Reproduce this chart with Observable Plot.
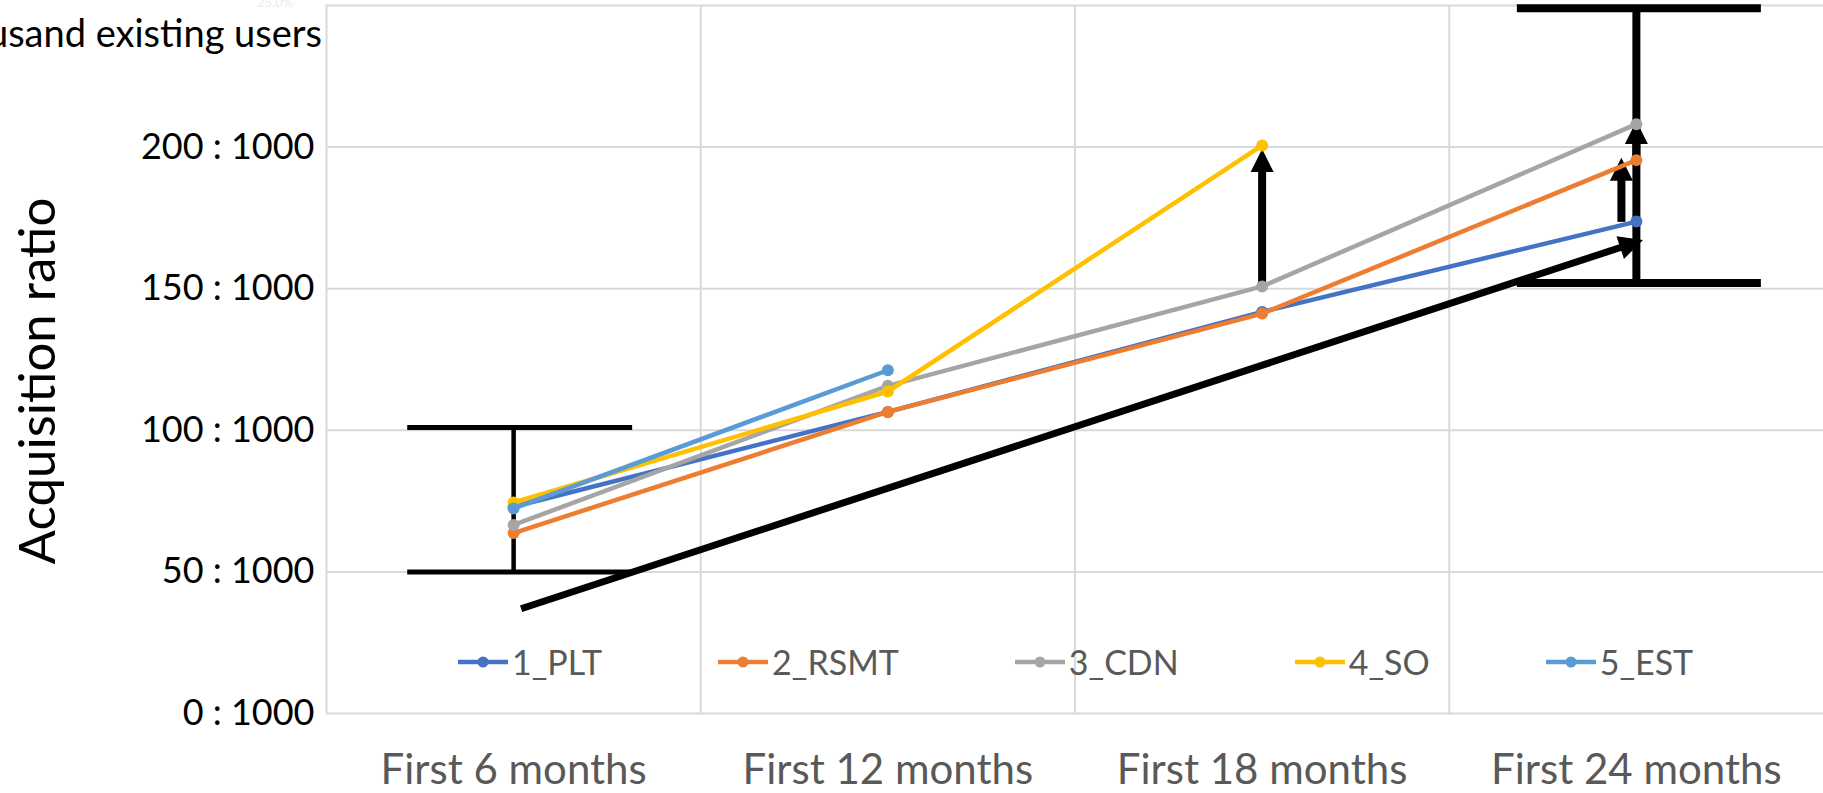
<!DOCTYPE html>
<html>
<head>
<meta charset="utf-8">
<script src="https://cdn.jsdelivr.net/npm/d3@7"></script>
<script src="https://cdn.jsdelivr.net/npm/@observablehq/plot@0.6"></script>
<style>
  html, body { margin: 0; padding: 0; background: #fff; overflow: hidden; }
  #wrap { position: relative; width: 1823px; height: 793px; overflow: hidden;
          font-family: Lato, "Open Sans", "Noto Sans", sans-serif; }
  #wrap > svg { position: absolute; left: 0; top: 0; }
  .note { position: absolute; white-space: nowrap; }
  #topline { right: 1501px; top: 13px; font-size: 38px; line-height: 38px; color: #000; }
  #pct { left: 257px; top: -4px; font-size: 13px; line-height: 13px; color: #ececec; }
  #ytitle { left: 35px; top: 381px; font-size: 51px; line-height: 51px; color: #000;
            transform: translate(-50%, -50%) rotate(-90deg); }
  #legend { position: absolute; left: 458px; top: 642px; height: 40px; display: flex;
            align-items: center; gap: 116px; font-size: 34px; color: #595959; }
  #legend .item { display: flex; align-items: center; }
  #legend .item span { margin-left: 4px; line-height: 40px; }
</style>
</head>
<body>
<div id="wrap">
  <div class="note" id="topline">New users per thousand existing users</div>
  <div class="note" id="pct">25.0%</div>
  <div class="note" id="ytitle">Acquisition ratio</div>
  <div id="legend"></div>
</div>
<script>
// Periods on the x axis
const categories = ["First 6 months", "First 12 months", "First 18 months", "First 24 months"];

// Series (new users per 1000 existing users)
const seriesNames = ["1_PLT", "2_RSMT", "3_CDN", "4_SO", "5_EST"];
const seriesColors = ["#4472C4", "#ED7D31", "#A5A5A5", "#FFC000", "#5B9BD5"];
const plt  = [73.0, 106.5, 141.8, 173.7];
const rsmt = [63.7, 106.5, 141.2, 195.4];
const cdn  = [66.6, 115.7, 150.8, 208.1];
const so   = [74.5, 113.7, 200.6];
const est  = [72.4, 121.2];

// Value axis
const yTicks = [0, 50, 100, 150, 200];
const yGridLines = [0, 50, 100, 150, 200, 250];

// Expected ranges (low / high) at a period
const rangeAt   = [0, 3];
const rangeLow  = [50, 152];
const rangeHigh = [101, 249];

// Step-up arrows between series at a period
const stepAt   = [2, 2.96, 3];
const stepFrom = [152, 173.6, 195.4];
const stepTo   = [196.5, 193.4, 206.4];

// Overall trend arrow [period, value]
const trendFrom = [0.02, 37];
const trendTo   = [3.0, 166.4];

// ---- derived tables ----
const seriesValues = [plt, rsmt, cdn, so, est];
const points = seriesNames.map((name, s) =>
  seriesValues[s].map((value, i) => ({name, i, value})));
const ranges = rangeAt.map((at, k) => ({at, low: rangeLow[k], high: rangeHigh[k]}));
const steps = stepAt.map((at, k) => ({at, from: stepFrom[k], to: stepTo[k]}));
const trend = [{x1: trendFrom[0], y1: trendFrom[1], x2: trendTo[0], y2: trendTo[1]}];

// Look of the range bars (cap reach left/right in periods, line weights in px)
const rangeStyle = [
  {left: 0.283, right: 0.318, cap: 5, stem: 4.5},
  {left: 0.318, right: 0.334, cap: 8, stem: 8}
];

// Filled triangular arrowhead; the tip overhangs the shaft end by `overhang` px
const SVGNS = "http://www.w3.org/2000/svg";
function solidHead(size, overhang) {
  return (color) => {
    const m = document.createElementNS(SVGNS, "marker");
    m.setAttribute("viewBox", `0 ${-size / 2} ${size} ${size}`);
    m.setAttribute("markerWidth", size);
    m.setAttribute("markerHeight", size);
    m.setAttribute("markerUnits", "userSpaceOnUse");
    m.setAttribute("refX", size - overhang);
    m.setAttribute("refY", 0);
    m.setAttribute("orient", "auto");
    m.setAttribute("overflow", "visible");
    const p = document.createElementNS(SVGNS, "path");
    p.setAttribute("d", `M0,${-size / 2}L${size},0L0,${size / 2}Z`);
    p.setAttribute("fill", color);
    p.setAttribute("stroke", "none");
    m.appendChild(p);
    return m;
  };
}

const seriesMarks = points.flatMap((rows, s) => [
  Plot.line(rows, {x: "i", y: "value", stroke: seriesColors[s], strokeWidth: 4.5}),
  Plot.dot(rows, {x: "i", y: "value", r: 6, fill: seriesColors[s], stroke: "none"})
]);

const chart = Plot.plot({
  width: 1823,
  height: 793,
  marginLeft: 326,
  marginRight: 0,
  marginTop: 5,
  marginBottom: 80,
  style: {fontFamily: "Lato, 'Open Sans', sans-serif", background: "transparent", overflow: "visible"},
  x: {domain: [-0.5, categories.length - 0.5]},
  y: {domain: [0, 250]},
  marks: [
    // gridlines
    Plot.ruleY(yGridLines, {stroke: "#D9D9D9", strokeWidth: 2}),
    Plot.ruleX(categories.map((_, i) => i - 0.5), {stroke: "#D9D9D9", strokeWidth: 2}),
    // axes
    Plot.axisY(yTicks, {tickSize: 0, tickPadding: 12, tickFormat: (d) => `${d} : 1000`,
      fontSize: 36, color: "#000", label: null}),
    Plot.axisX(categories.map((_, i) => i), {tickSize: 0, tickPadding: 41,
      tickFormat: (i) => categories[i], fontSize: 42, color: "#595959", label: null}),
    // range bars
    Plot.ruleX(ranges, {x: "at", y1: "low", y2: "high", stroke: "#000",
      strokeWidth: (d, k) => rangeStyle[k].stem}),
    Plot.ruleY(ranges, {y: "low", x1: (d, k) => d.at - rangeStyle[k].left,
      x2: (d, k) => d.at + rangeStyle[k].right, stroke: "#000", strokeWidth: (d, k) => rangeStyle[k].cap}),
    Plot.ruleY(ranges, {y: "high", x1: (d, k) => d.at - rangeStyle[k].left,
      x2: (d, k) => d.at + rangeStyle[k].right, stroke: "#000", strokeWidth: (d, k) => rangeStyle[k].cap}),
    // trend arrow
    Plot.link(trend, {x1: "x1", y1: "y1", x2: "x2", y2: "y2", stroke: "#000", strokeWidth: 7,
      markerEnd: solidHead(24, 7)}),
    // step arrows
    Plot.link(steps, {x1: "at", x2: "at", y1: "from", y2: "to", stroke: "#000", strokeWidth: 8,
      markerEnd: solidHead(23, 8)}),
    // series
    ...seriesMarks
  ]
});

const wrap = document.getElementById("wrap");
wrap.insertBefore(chart, wrap.firstChild);

// legend: line-with-marker swatches
const legend = document.getElementById("legend");
seriesNames.forEach((name, s) => {
  const item = document.createElement("div");
  item.className = "item";
  item.innerHTML =
    `<svg width="50" height="14"><line x1="0" y1="7" x2="50" y2="7" stroke="${seriesColors[s]}" stroke-width="4.5"/>` +
    `<circle cx="25" cy="7" r="5.5" fill="${seriesColors[s]}"/></svg><span>${name}</span>`;
  legend.appendChild(item);
});
</script>
</body>
</html>
